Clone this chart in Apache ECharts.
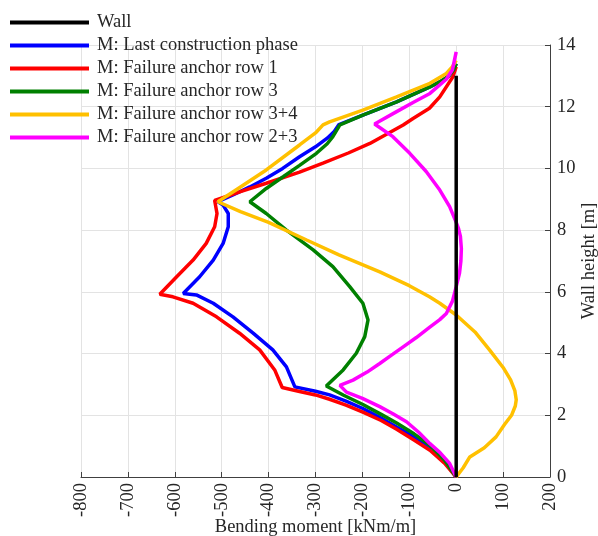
<!DOCTYPE html>
<html>
<head>
<meta charset="utf-8">
<script src="https://cdn.jsdelivr.net/npm/echarts@6/dist/echarts.min.js"></script>
<style>
html,body{margin:0;padding:0;background:#fff;}
#chart{width:598px;height:536px;}
</style>
</head>
<body>
<div id="chart"></div>
<script>
// ---- data ----
const seriesNames = ['Wall','M: Last construction phase','M: Failure anchor row 1','M: Failure anchor row 3','M: Failure anchor row 3+4','M: Failure anchor row 2+3'];
const xTicks = [-800,-700,-600,-500,-400,-300,-200,-100,0,100,200];
const yTicks = [0,2,4,6,8,10,12,14];

const wallM = [0, 0];
const wallH = [0, 13];

const lastM = [0,-25,-56,-90,-127,-165,-199,-235,-270,-300,-344,-362,-391,-433,-476,-518,-554,-582,-547,-518,-497,-486,-486,-497,-508,-476,-440,-405,-370,-334,-300,-275,-260,-250,-199,-127,-56,-30,-16,-5,0];
const lastH = [0,0.5,0.98,1.3,1.62,1.95,2.22,2.46,2.66,2.78,2.92,3.57,4.12,4.66,5.19,5.63,5.9,5.95,6.49,7.03,7.57,8.11,8.54,8.81,8.92,9.14,9.4,9.68,10.0,10.38,10.7,10.98,11.2,11.42,11.73,12.16,12.64,12.85,12.99,13.2,13.4];

const row1M = [0,-25,-56,-90,-127,-160,-199,-235,-270,-300,-334,-371,-387,-419,-462,-511,-561,-604,-632,-596,-561,-533,-515,-510,-515,-460,-405,-334,-284,-230,-184,-113,-92,-57,-35,-7,0];
const row1H = [0,0.45,0.87,1.2,1.55,1.83,2.1,2.33,2.52,2.66,2.77,2.9,3.47,4.12,4.66,5.19,5.63,5.84,5.92,6.49,7.03,7.57,8.11,8.54,8.96,9.25,9.52,9.88,10.17,10.5,10.81,11.41,11.62,11.95,12.32,12.97,13.3];

const row3M = [0,-25,-56,-90,-127,-160,-199,-240,-277,-241,-213,-195,-188,-199,-227,-263,-305,-362,-405,-440,-405,-369,-334,-298,-275,-263,-248,-199,-127,-56,-30,-16,-5,0];
const row3H = [0,0.55,1.03,1.4,1.75,2.03,2.35,2.65,2.95,3.47,4.01,4.55,5.09,5.63,6.17,6.82,7.36,8.0,8.54,8.92,9.35,9.73,10.1,10.49,10.8,11.03,11.41,11.73,12.16,12.64,12.85,12.99,13.2,13.4];

const row34M = [0,15,29,60,85,103,118,126,128,125,116,100,71,40,0,-35,-57,-100,-163,-250,-319,-400,-460,-508,-460,-405,-334,-300,-284,-270,-199,-127,-56,-21,-8,0];
const row34H = [0,0.3,0.65,0.95,1.3,1.7,2.0,2.3,2.5,2.8,3.15,3.55,4.12,4.7,5.25,5.63,5.84,6.2,6.65,7.2,7.68,8.25,8.6,8.92,9.4,9.95,10.76,11.15,11.41,11.51,11.89,12.32,12.76,13.08,13.3,13.5];

const row23M = [0,-14,-35,-56,-80,-106,-135,-163,-200,-234,-248,-220,-190,-163,-135,-110,-85,-57,-35,-21,-8,0,7,10,11,9,5,0,-14,-35,-64,-99,-135,-174,-127,-90,-56,-21,-8,0];
const row23H = [0,0.44,0.8,1.08,1.45,1.79,2.05,2.28,2.55,2.75,2.97,3.14,3.4,3.68,3.98,4.25,4.52,4.85,5.1,5.3,5.7,6.17,6.6,7.0,7.4,7.8,8.05,8.25,8.76,9.3,9.9,10.49,11.03,11.44,11.84,12.15,12.43,12.89,13.2,13.78];

const colors = ['#000000','#0000ff','#ff0000','#008000','#ffc000','#ff00ff'];

// ---- build ----
function zip(m, h){ return m.map((v,i)=>[v,h[i]]); }
const dataSets = [zip(wallM,wallH), zip(lastM,lastH), zip(row1M,row1H), zip(row3M,row3H), zip(row34M,row34H), zip(row23M,row23H)];

const FONT = 'Liberation Serif';
const TXT = '#262626';
const AX = '#404040';

const chart = echarts.init(document.getElementById('chart'), null, {renderer:'canvas'});
chart.setOption({
  animation: false,
  backgroundColor: '#ffffff',
  textStyle: {fontFamily: FONT},
  grid: {left: 81, right: 48, top: 45, bottom: 59, containLabel: false, outerBoundsMode: 'none'},
  legend: {
    orient: 'vertical',
    left: 5,
    top: 8,
    itemWidth: 79,
    itemHeight: 4,
    itemGap: 4,
    icon: 'rect',
    data: seriesNames,
    textStyle: {fontFamily: FONT, fontSize: 18.5, color: TXT, lineHeight: 19, padding: [0,0,0,3]}
  },
  xAxis: {
    type: 'value',
    min: xTicks[0],
    max: xTicks[xTicks.length-1],
    interval: 100,
    position: 'bottom',
    name: 'Bending moment [kNm/m]',
    nameLocation: 'middle',
    nameGap: 41,
    nameMoveOverlap: false,
    nameTextStyle: {fontFamily: FONT, fontSize: 18.5, color: TXT},
    axisLine: {show: true, onZero: false, lineStyle: {color: AX, width: 1}},
    axisTick: {show: true, inside: true, length: 5, lineStyle: {color: AX}},
    axisLabel: {rotate: 90, margin: 6, fontFamily: FONT, fontSize: 18.5, color: TXT,
      formatter: v => String(v)},
    splitLine: {show: true, lineStyle: {color: '#e3e3e3', width: 1}}
  },
  yAxis: {
    type: 'value',
    min: yTicks[0],
    max: yTicks[yTicks.length-1],
    interval: 2,
    position: 'right',
    name: 'Wall height [m]',
    nameLocation: 'middle',
    nameRotate: 90,
    nameGap: 30,
    nameMoveOverlap: false,
    nameTextStyle: {fontFamily: FONT, fontSize: 18.5, color: TXT},
    axisLine: {show: true, onZero: false, lineStyle: {color: AX, width: 1}},
    axisTick: {show: true, inside: true, length: 5, lineStyle: {color: AX}},
    axisLabel: {margin: 7, fontFamily: FONT, fontSize: 18.5, color: TXT},
    splitLine: {show: true, lineStyle: {color: '#e3e3e3', width: 1}}
  },
  series: seriesNames.map((name, i) => ({
    name: name,
    type: 'line',
    data: dataSets[i],
    symbol: 'none',
    showSymbol: false,
    smooth: false,
    z: i === 0 ? 10 : 2 + i * 0.01,
    lineStyle: {color: colors[i], width: 3.5},
    itemStyle: {color: colors[i]},
    emphasis: {disabled: true}
  }))
});
</script>
</body>
</html>
